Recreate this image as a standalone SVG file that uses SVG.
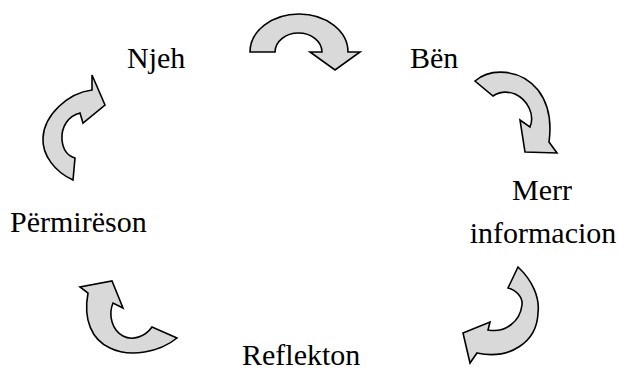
<svg xmlns="http://www.w3.org/2000/svg" width="620" height="371" viewBox="0 0 620 371">
<style>
.arr{fill:#d9d9d9;stroke:#000;stroke-width:1.6;stroke-linejoin:miter}
.lbl{font-family:"Liberation Serif","Times New Roman",serif;font-size:30px;fill:#000}
</style>
<rect width="620" height="371" fill="#fff"/>
<g id="connectors">
<path id="arrow-top" class="arr" d="M250,52 A49,38 0 0 1 348,52 L360,52 L335,70 L310,52 L322,52 A23.5,19 0 0 0 275,52 Z"/>
<path id="arrow-right-upper" class="arr" d="M475,81 C490,68 520,68 538,90 C548,103 552,120 549,142 L557,153 L525,152 L520,120 L530,127 C535,115 528,100 515,94 C507,91 499,92 493,96 Z"/>
<path id="arrow-right-lower" class="arr" d="M518,267 C532,280 540,297 538,313 C537,342 510,360 477,353 L470,363 L463,333 L490,322 L488,330 C505,333 520,322 522,305 C523,297 516,290 508,288 Z"/>
<path id="arrow-left-lower" class="arr" d="M177,338 C160,352 130,358 110,348 C92,340 83,320 88,293 L80,287 L112,281 L123,308 L113,303 C108,315 112,330 123,336 C132,341 145,337 152,327 Z"/>
<path id="arrow-left-upper" class="arr" d="M73,180 C55,172 42,155 43,138 C44,115 68,93 92,90 L92,75 L105,105 L83,123 L80,113 C68,116 61,127 62,140 C63,150 68,156 75,158 Z"/>
</g>
<g id="node-njeh"><text class="lbl" x="127" y="68">Njeh</text></g>
<g id="node-ben"><text class="lbl" x="410" y="68">Bën</text></g>
<g id="node-merr"><text class="lbl" x="542" y="200" text-anchor="middle">Merr</text><text class="lbl" x="543" y="243" text-anchor="middle">informacion</text></g>
<g id="node-reflekton"><text class="lbl" x="242" y="365">Reflekton</text></g>
<g id="node-permireson"><text class="lbl" x="10" y="232">Përmirëson</text></g>
</svg>
